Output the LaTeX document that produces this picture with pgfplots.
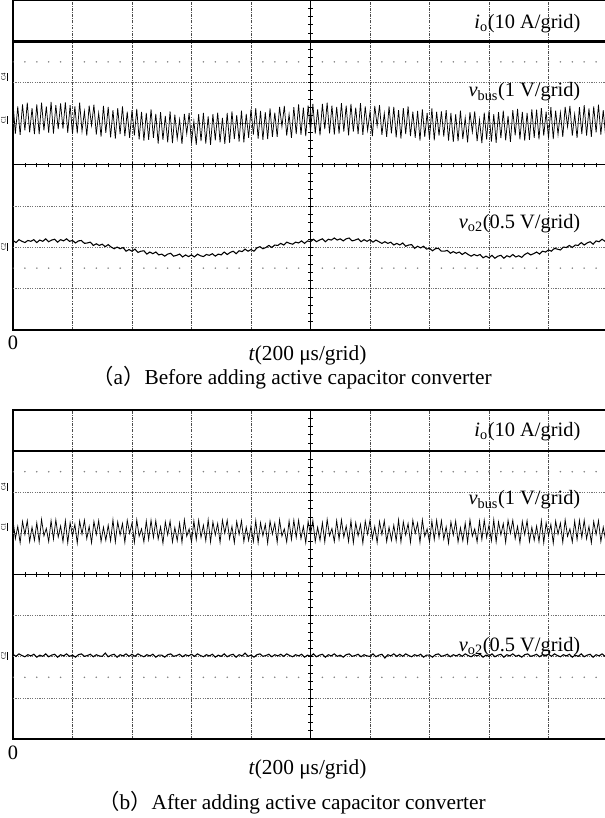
\documentclass[border=0pt]{standalone}
\usepackage{fontspec}
\usepackage{pgfplots}
\pgfplotsset{compat=1.18}
\setmainfont{Liberation Serif}
\newfontfamily\cjk{Noto Sans CJK SC}
\newcommand\lab{\fontsize{15.3}{18}\selectfont}
\newcommand\tlab{\fontsize{16}{19}\selectfont}
\newcommand\capf{\fontsize{16}{19}\selectfont}
\newcommand\chf{\fontsize{5}{5}\selectfont}

% 1 px of the reference = 0.75pt; one division = 59.5 px wide, 41.25 px high
\pgfplotsset{
  scopebox/.style={scale only axis, width=446.25pt,
    xmin=0, xmax=10, ymin=-4, ymax=4,
    xtick={1,...,9}, ytick=\empty, xticklabels={},
    xmajorgrids, major tick length=0pt,
    major grid style={black!70, line width=0.55pt, dash pattern=on 2.2pt off 0.9pt on 0.6pt off 0.9pt},
    axis line style={black, line width=0.9pt}},
  scopecross/.style={scale only axis, width=446.25pt,
    xmin=-5, xmax=5, ymin=-4, ymax=4, axis lines=middle,
    axis line style={-, black, line width=0.75pt},
    xtick={-5,...,5}, ytick={-4,...,4}, minor x tick num=4, minor y tick num=4,
    xticklabels={}, yticklabels={}, tick align=center,
    major tick length=4pt, minor tick length=3.5pt,
    tick style={black, line width=0.55pt}},
}
\tikzset{
  ygridl/.style={black!55, line width=0.55pt, dash pattern=on 0.9pt off 0.9pt},
  dotrow/.style={black!50, line width=1.3pt, line cap=round, dash pattern=on 0pt off 8.925pt},
}

\begin{document}
\begin{tikzpicture}
\useasboundingbox (0,0) rectangle (453.75pt,613.5pt);

% ---------------- (a) before ----------------
\begin{axis}[scopebox, height=247.5pt, at={(9.75pt,366pt)}, anchor=south west]
  \draw[ygridl] (axis cs:0,3) -- (axis cs:10,3);
  \draw[ygridl] (axis cs:0,2) -- (axis cs:10,2);
  \draw[ygridl] (axis cs:0,1) -- (axis cs:10,1);
  \draw[ygridl] (axis cs:0,-1) -- (axis cs:10,-1);
  \draw[ygridl] (axis cs:0,-2) -- (axis cs:10,-2);
  \draw[ygridl] (axis cs:0,-3) -- (axis cs:10,-3);
  \draw[dotrow] (axis cs:0,2.5) -- (axis cs:10,2.5);
  \draw[dotrow] (axis cs:0,-2.5) -- (axis cs:10,-2.5);
  % i_o
  \addplot[black, line width=2.6pt] coordinates {(0,2.99) (2.5,2.99) (5,2.99) (7.5,2.99) (10,2.99)};
  % v_bus
  \addplot[black, line width=0.55pt] coordinates {
    (0,1.50) (0.04,0.76) (0.08,1.42) (0.12,0.73) (0.16,1.47) (0.2,0.84) (0.24,1.51) (0.28,0.79) (0.32,1.38) (0.36,0.75)
    (0.4,1.47) (0.44,0.75) (0.48,1.51) (0.52,0.84) (0.56,1.42) (0.6,0.78) (0.64,1.53) (0.68,0.76) (0.72,1.45) (0.76,0.87)
    (0.8,1.49) (0.84,0.88) (0.88,1.52) (0.92,0.78) (0.96,1.45) (1,0.75) (1.04,1.42) (1.08,0.77) (1.12,1.51) (1.16,0.82)
    (1.2,1.30) (1.24,0.71) (1.28,1.44) (1.32,0.96) (1.36,1.46) (1.4,0.74) (1.44,1.26) (1.48,0.69) (1.52,1.43) (1.56,0.78)
    (1.6,1.41) (1.64,0.67) (1.68,1.33) (1.72,0.64) (1.76,1.38) (1.8,0.75) (1.84,1.42) (1.88,0.70) (1.92,1.29) (1.96,0.66)
    (2,1.33) (2.04,0.72) (2.08,1.36) (2.12,0.62) (2.16,1.29) (2.2,0.59) (2.24,1.26) (2.28,0.61) (2.32,1.35) (2.36,0.66)
    (2.4,1.24) (2.44,0.52) (2.48,1.28) (2.52,0.61) (2.56,1.19) (2.6,0.55) (2.64,1.30) (2.68,0.53) (2.72,1.22) (2.76,0.64)
    (2.8,1.10) (2.84,0.51) (2.88,1.24) (2.92,0.76) (2.96,1.26) (3,0.54) (3.04,1.06) (3.08,0.49) (3.12,1.23) (3.16,0.58)
    (3.2,1.26) (3.24,0.52) (3.28,1.18) (3.32,0.49) (3.36,1.23) (3.4,0.60) (3.44,1.27) (3.48,0.55) (3.52,1.14) (3.56,0.51)
    (3.6,1.26) (3.64,0.54) (3.68,1.30) (3.72,0.63) (3.76,1.21) (3.8,0.57) (3.84,1.32) (3.88,0.55) (3.92,1.24) (3.96,0.66)
    (4,1.35) (4.04,0.74) (4.08,1.38) (4.12,0.64) (4.16,1.31) (4.2,0.61) (4.24,1.28) (4.28,0.63) (4.32,1.37) (4.36,0.68)
    (4.4,1.27) (4.44,0.68) (4.48,1.41) (4.52,0.93) (4.56,1.43) (4.6,0.71) (4.64,1.23) (4.68,0.66) (4.72,1.40) (4.76,0.75)
    (4.8,1.47) (4.84,0.73) (4.88,1.39) (4.92,0.70) (4.96,1.44) (5,0.81) (5.04,1.48) (5.08,0.76) (5.12,1.35) (5.16,0.72)
    (5.2,1.48) (5.24,0.87) (5.28,1.51) (5.32,0.77) (5.36,1.44) (5.4,0.74) (5.44,1.41) (5.48,0.76) (5.52,1.50) (5.56,0.81)
    (5.6,1.44) (5.64,0.72) (5.68,1.48) (5.72,0.81) (5.76,1.39) (5.8,0.75) (5.84,1.50) (5.88,0.73) (5.92,1.42) (5.96,0.84)
    (6,1.29) (6.04,0.70) (6.08,1.43) (6.12,0.95) (6.16,1.45) (6.2,0.73) (6.24,1.25) (6.28,0.68) (6.32,1.42) (6.36,0.77)
    (6.4,1.41) (6.44,0.67) (6.48,1.33) (6.52,0.64) (6.56,1.38) (6.6,0.75) (6.64,1.42) (6.68,0.70) (6.72,1.29) (6.76,0.66)
    (6.8,1.31) (6.84,0.59) (6.88,1.35) (6.92,0.68) (6.96,1.26) (7,0.62) (7.04,1.37) (7.08,0.60) (7.12,1.29) (7.16,0.71)
    (7.2,1.30) (7.24,0.69) (7.28,1.33) (7.32,0.59) (7.36,1.26) (7.4,0.56) (7.44,1.23) (7.48,0.58) (7.52,1.32) (7.56,0.63)
    (7.6,1.14) (7.64,0.55) (7.68,1.28) (7.72,0.80) (7.76,1.30) (7.8,0.58) (7.84,1.10) (7.88,0.53) (7.92,1.27) (7.96,0.62)
    (8,1.31) (8.04,0.57) (8.08,1.23) (8.12,0.54) (8.16,1.28) (8.2,0.65) (8.24,1.32) (8.28,0.60) (8.32,1.19) (8.36,0.56)
    (8.4,1.33) (8.44,0.72) (8.48,1.36) (8.52,0.62) (8.56,1.29) (8.6,0.59) (8.64,1.26) (8.68,0.61) (8.72,1.35) (8.76,0.66)
    (8.8,1.34) (8.84,0.62) (8.88,1.38) (8.92,0.71) (8.96,1.29) (9,0.65) (9.04,1.40) (9.08,0.63) (9.12,1.32) (9.16,0.74)
    (9.2,1.27) (9.24,0.68) (9.28,1.41) (9.32,0.93) (9.36,1.43) (9.4,0.71) (9.44,1.23) (9.48,0.66) (9.52,1.40) (9.56,0.75)
    (9.6,1.45) (9.64,0.71) (9.68,1.37) (9.72,0.68) (9.76,1.42) (9.8,0.79) (9.84,1.46) (9.88,0.74) (9.92,1.33) (9.96,0.70) (10,1.37)
  };
  % v_o2
  \addplot[black, line width=0.8pt] coordinates {
    (0,-1.83) (0.05,-1.88) (0.1,-1.81) (0.15,-1.85) (0.2,-1.88) (0.25,-1.83) (0.3,-1.85) (0.35,-1.81) (0.4,-1.88) (0.45,-1.82)
    (0.5,-1.85) (0.55,-1.79) (0.6,-1.86) (0.65,-1.82) (0.7,-1.80) (0.75,-1.87) (0.8,-1.81) (0.85,-1.84) (0.9,-1.79) (0.95,-1.85)
    (1,-1.83) (1.05,-1.89) (1.1,-1.84) (1.15,-1.83) (1.2,-1.90) (1.25,-1.89) (1.3,-1.87) (1.35,-1.95) (1.4,-1.91) (1.45,-1.95)
    (1.5,-1.92) (1.55,-1.98) (1.6,-1.93) (1.65,-1.99) (1.7,-2.03) (1.75,-1.99) (1.8,-2.03) (1.85,-2.00) (1.9,-2.09) (1.95,-2.05)
    (2,-2.09) (2.05,-2.04) (2.1,-2.12) (2.15,-2.09) (2.2,-2.08) (2.25,-2.16) (2.3,-2.11) (2.35,-2.15) (2.4,-2.11) (2.45,-2.18)
    (2.5,-2.16) (2.55,-2.21) (2.6,-2.16) (2.65,-2.14) (2.7,-2.21) (2.75,-2.19) (2.8,-2.16) (2.85,-2.23) (2.9,-2.18) (2.95,-2.22)
    (3,-2.18) (3.05,-2.23) (3.1,-2.16) (3.15,-2.20) (3.2,-2.22) (3.25,-2.17) (3.3,-2.19) (3.35,-2.15) (3.4,-2.21) (3.45,-2.16)
    (3.5,-2.18) (3.55,-2.11) (3.6,-2.17) (3.65,-2.12) (3.7,-2.09) (3.75,-2.15) (3.8,-2.08) (3.85,-2.10) (3.9,-2.04) (3.95,-2.09)
    (4,-2.05) (4.05,-2.09) (4.1,-2.01) (4.15,-1.98) (4.2,-2.03) (4.25,-2.00) (4.3,-1.95) (4.35,-2.00) (4.4,-1.94) (4.45,-1.95)
    (4.5,-1.90) (4.55,-1.94) (4.6,-1.87) (4.65,-1.90) (4.7,-1.92) (4.75,-1.87) (4.8,-1.89) (4.85,-1.84) (4.9,-1.90) (4.95,-1.84)
    (5,-1.86) (5.05,-1.80) (5.1,-1.86) (5.15,-1.82) (5.2,-1.79) (5.25,-1.86) (5.3,-1.80) (5.35,-1.82) (5.4,-1.77) (5.45,-1.82)
    (5.5,-1.79) (5.55,-1.84) (5.6,-1.79) (5.65,-1.77) (5.7,-1.84) (5.75,-1.82) (5.8,-1.79) (5.85,-1.86) (5.9,-1.81) (5.95,-1.85)
    (6,-1.81) (6.05,-1.87) (6.1,-1.82) (6.15,-1.86) (6.2,-1.90) (6.25,-1.86) (6.3,-1.90) (6.35,-1.87) (6.4,-1.94) (6.45,-1.90)
    (6.5,-1.94) (6.55,-1.89) (6.6,-1.97) (6.65,-1.94) (6.7,-1.93) (6.75,-2.02) (6.8,-1.97) (6.85,-2.01) (6.9,-1.97) (6.95,-2.04)
    (7,-2.02) (7.05,-2.08) (7.1,-2.03) (7.15,-2.02) (7.2,-2.09) (7.25,-2.09) (7.3,-2.07) (7.35,-2.14) (7.4,-2.10) (7.45,-2.14)
    (7.5,-2.11) (7.55,-2.17) (7.6,-2.12) (7.65,-2.17) (7.7,-2.21) (7.75,-2.17) (7.8,-2.20) (7.85,-2.17) (7.9,-2.25) (7.95,-2.21)
    (8,-2.25) (8.05,-2.19) (8.1,-2.26) (8.15,-2.21) (8.2,-2.19) (8.25,-2.26) (8.3,-2.20) (8.35,-2.23) (8.4,-2.17) (8.45,-2.23)
    (8.5,-2.20) (8.55,-2.24) (8.6,-2.17) (8.65,-2.13) (8.7,-2.18) (8.75,-2.15) (8.8,-2.11) (8.85,-2.16) (8.9,-2.09) (8.95,-2.11)
    (9,-2.06) (9.05,-2.09) (9.1,-2.02) (9.15,-2.04) (9.2,-2.06) (9.25,-1.99) (9.3,-2.00) (9.35,-1.95) (9.4,-2.00) (9.45,-1.94)
    (9.5,-1.95) (9.55,-1.88) (9.6,-1.94) (9.65,-1.89) (9.7,-1.86) (9.75,-1.92) (9.8,-1.84) (9.85,-1.86) (9.9,-1.80) (9.95,-1.85) (10,-1.82)
  };
\end{axis}
\begin{axis}[scopecross, height=247.5pt, at={(9.75pt,366pt)}, anchor=south west]
\end{axis}

\node[anchor=base east, font=\lab] at (438.75pt,591.75pt) {\textit{i}\textsubscript{o}(10 A/grid)};
\node[anchor=base east, font=\lab] at (438.75pt,540.75pt) {\textit{v}\textsubscript{bus}(1 V/grid)};
\node[anchor=base east, font=\lab] at (438.75pt,441.75pt) {\textit{v}\textsubscript{o2}(0.5 V/grid)};
\node[anchor=base, font=\lab] at (9.75pt,351pt) {0};
\node[anchor=base, font=\tlab] at (230.6pt,342.75pt) {\textit{t}(200 μs/grid)};
\node[anchor=base, font=\capf] at (219pt,324.75pt) {{\cjk （}a{\cjk ）}Before adding active capacitor converter};
\node[rotate=90, font=\chf, inner sep=0.5pt] at (3.5pt,555.75pt) {\underline{C4}};
\node[rotate=90, font=\chf, inner sep=0.5pt] at (3.5pt,523.5pt) {\underline{C1}};
\node[rotate=90, font=\chf, inner sep=0.5pt] at (3.5pt,428.25pt) {\underline{C2}};

% ---------------- (b) after ----------------
\begin{axis}[scopebox, height=246.75pt, at={(9.75pt,59.25pt)}, anchor=south west]
  \draw[ygridl] (axis cs:0,3) -- (axis cs:10,3);
  \draw[ygridl] (axis cs:0,2) -- (axis cs:10,2);
  \draw[ygridl] (axis cs:0,1) -- (axis cs:10,1);
  \draw[ygridl] (axis cs:0,-1) -- (axis cs:10,-1);
  \draw[ygridl] (axis cs:0,-2) -- (axis cs:10,-2);
  \draw[ygridl] (axis cs:0,-3) -- (axis cs:10,-3);
  \draw[dotrow] (axis cs:0,2.5) -- (axis cs:10,2.5);
  \draw[dotrow] (axis cs:0,-2.5) -- (axis cs:10,-2.5);
  % i_o
  \addplot[black, line width=1.9pt] coordinates {(0,3.0) (2.5,3.0) (5,3.0) (7.5,3.0) (10,3.0)};
  % v_bus
  \addplot[black, line width=0.55pt] coordinates {
    (0,1.32) (0.04,0.87) (0.08,1.17) (0.12,0.77) (0.16,1.29) (0.2,0.97) (0.24,1.31) (0.28,0.80) (0.32,1.15) (0.36,0.83)
    (0.4,1.26) (0.44,0.79) (0.48,1.34) (0.52,0.94) (0.56,1.12) (0.6,0.80) (0.64,1.31) (0.68,0.86) (0.72,1.33) (0.76,0.91)
    (0.8,1.18) (0.84,0.80) (0.88,1.31) (0.92,0.77) (0.96,1.26) (1,0.94) (1.04,1.22) (1.08,0.76) (1.12,1.30) (1.16,0.98)
    (1.2,1.32) (1.24,0.87) (1.28,1.17) (1.32,0.77) (1.36,1.29) (1.4,0.97) (1.44,1.31) (1.48,0.80) (1.52,1.15) (1.56,0.83)
    (1.6,1.20) (1.64,0.82) (1.68,1.33) (1.72,0.79) (1.76,1.28) (1.8,0.96) (1.84,1.24) (1.88,0.78) (1.92,1.32) (1.96,1.00)
    (2,1.25) (2.04,0.78) (2.08,1.33) (2.12,0.93) (2.16,1.11) (2.2,0.79) (2.24,1.30) (2.28,0.85) (2.32,1.32) (2.36,0.90)
    (2.4,1.31) (2.44,0.86) (2.48,1.16) (2.52,0.76) (2.56,1.28) (2.6,0.96) (2.64,1.30) (2.68,0.79) (2.72,1.14) (2.76,0.82)
    (2.8,1.25) (2.84,0.78) (2.88,1.33) (2.92,0.93) (2.96,1.11) (3,0.79) (3.04,1.30) (3.08,0.85) (3.12,1.32) (3.16,0.90)
    (3.2,1.20) (3.24,0.82) (3.28,1.33) (3.32,0.79) (3.36,1.28) (3.4,0.96) (3.44,1.24) (3.48,0.78) (3.52,1.32) (3.56,1.00)
    (3.6,1.32) (3.64,0.87) (3.68,1.17) (3.72,0.77) (3.76,1.29) (3.8,0.97) (3.84,1.31) (3.88,0.80) (3.92,1.15) (3.96,0.83)
    (4,1.18) (4.04,0.80) (4.08,1.31) (4.12,0.77) (4.16,1.26) (4.2,0.94) (4.24,1.22) (4.28,0.76) (4.32,1.30) (4.36,0.98)
    (4.4,1.25) (4.44,0.78) (4.48,1.33) (4.52,0.93) (4.56,1.11) (4.6,0.79) (4.64,1.30) (4.68,0.85) (4.72,1.32) (4.76,0.90)
    (4.8,1.32) (4.84,0.87) (4.88,1.17) (4.92,0.77) (4.96,1.29) (5,0.97) (5.04,1.31) (5.08,0.80) (5.12,1.15) (5.16,0.83)
    (5.2,1.26) (5.24,0.79) (5.28,1.34) (5.32,0.94) (5.36,1.12) (5.4,0.80) (5.44,1.31) (5.48,0.86) (5.52,1.33) (5.56,0.91)
    (5.6,1.18) (5.64,0.80) (5.68,1.31) (5.72,0.77) (5.76,1.26) (5.8,0.94) (5.84,1.22) (5.88,0.76) (5.92,1.30) (5.96,0.98)
    (6,1.32) (6.04,0.87) (6.08,1.17) (6.12,0.77) (6.16,1.29) (6.2,0.97) (6.24,1.31) (6.28,0.80) (6.32,1.15) (6.36,0.83)
    (6.4,1.20) (6.44,0.82) (6.48,1.33) (6.52,0.79) (6.56,1.28) (6.6,0.96) (6.64,1.24) (6.68,0.78) (6.72,1.32) (6.76,1.00)
    (6.8,1.25) (6.84,0.78) (6.88,1.33) (6.92,0.93) (6.96,1.11) (7,0.79) (7.04,1.30) (7.08,0.85) (7.12,1.32) (7.16,0.90)
    (7.2,1.31) (7.24,0.86) (7.28,1.16) (7.32,0.76) (7.36,1.28) (7.4,0.96) (7.44,1.30) (7.48,0.79) (7.52,1.14) (7.56,0.82)
    (7.6,1.25) (7.64,0.78) (7.68,1.33) (7.72,0.93) (7.76,1.11) (7.8,0.79) (7.84,1.30) (7.88,0.85) (7.92,1.32) (7.96,0.90)
    (8,1.20) (8.04,0.82) (8.08,1.33) (8.12,0.79) (8.16,1.28) (8.2,0.96) (8.24,1.24) (8.28,0.78) (8.32,1.32) (8.36,1.00)
    (8.4,1.32) (8.44,0.87) (8.48,1.17) (8.52,0.77) (8.56,1.29) (8.6,0.97) (8.64,1.31) (8.68,0.80) (8.72,1.15) (8.76,0.83)
    (8.8,1.18) (8.84,0.80) (8.88,1.31) (8.92,0.77) (8.96,1.26) (9,0.94) (9.04,1.22) (9.08,0.76) (9.12,1.30) (9.16,0.98)
    (9.2,1.25) (9.24,0.78) (9.28,1.33) (9.32,0.93) (9.36,1.11) (9.4,0.79) (9.44,1.30) (9.48,0.85) (9.52,1.32) (9.56,0.90)
    (9.6,1.32) (9.64,0.87) (9.68,1.17) (9.72,0.77) (9.76,1.29) (9.8,0.97) (9.84,1.31) (9.88,0.80) (9.92,1.15) (9.96,0.83) (10,1.30)
  };
  % v_o2
  \addplot[black, line width=0.8pt] coordinates {
    (0,-1.94) (0.05,-1.99) (0.1,-1.93) (0.15,-1.97) (0.2,-2.00) (0.25,-1.95) (0.3,-1.98) (0.35,-1.94) (0.4,-2.01) (0.45,-1.96)
    (0.5,-1.99) (0.55,-1.93) (0.6,-2.00) (0.65,-1.96) (0.7,-1.94) (0.75,-2.01) (0.8,-1.95) (0.85,-1.98) (0.9,-1.93) (0.95,-1.99)
    (1,-1.96) (1.05,-2.01) (1.1,-1.95) (1.15,-1.93) (1.2,-1.99) (1.25,-1.97) (1.3,-1.94) (1.35,-2.00) (1.4,-1.95) (1.45,-1.98)
    (1.5,-1.99) (1.55,-1.91) (1.6,-2.00) (1.65,-1.96) (1.7,-1.94) (1.75,-2.01) (1.8,-1.95) (1.85,-1.98) (1.9,-1.93) (1.95,-1.99)
    (2,-1.94) (2.05,-1.99) (2.1,-1.93) (2.15,-1.97) (2.2,-2.00) (2.25,-1.95) (2.3,-1.98) (2.35,-1.94) (2.4,-2.01) (2.45,-1.96)
    (2.5,-1.96) (2.55,-2.01) (2.6,-1.95) (2.65,-1.93) (2.7,-1.99) (2.75,-1.97) (2.8,-1.94) (2.85,-2.00) (2.9,-1.95) (2.95,-1.98)
    (3,-1.94) (3.05,-1.99) (3.1,-1.93) (3.15,-1.97) (3.2,-2.00) (3.25,-1.95) (3.3,-1.98) (3.35,-1.94) (3.4,-2.01) (3.45,-1.96)
    (3.5,-1.99) (3.55,-1.93) (3.6,-2.00) (3.65,-1.96) (3.7,-1.94) (3.75,-2.01) (3.8,-1.95) (3.85,-1.98) (3.9,-1.91) (3.95,-1.99)
    (4,-1.96) (4.05,-2.01) (4.1,-1.95) (4.15,-1.93) (4.2,-1.99) (4.25,-1.97) (4.3,-1.94) (4.35,-2.00) (4.4,-1.95) (4.45,-1.98)
    (4.5,-1.94) (4.55,-1.99) (4.6,-1.93) (4.65,-1.97) (4.7,-2.00) (4.75,-1.95) (4.8,-1.98) (4.85,-1.94) (4.9,-2.01) (4.95,-1.96)
    (5,-1.99) (5.05,-1.93) (5.1,-2.00) (5.15,-1.96) (5.2,-1.94) (5.25,-2.01) (5.3,-1.95) (5.35,-1.98) (5.4,-1.93) (5.45,-1.99)
    (5.5,-1.96) (5.55,-2.01) (5.6,-1.95) (5.65,-1.93) (5.7,-1.99) (5.75,-1.97) (5.8,-1.94) (5.85,-2.00) (5.9,-1.95) (5.95,-1.98)
    (6,-1.99) (6.05,-1.93) (6.1,-2.00) (6.15,-1.96) (6.2,-1.94) (6.25,-2.03) (6.3,-1.95) (6.35,-1.98) (6.4,-1.93) (6.45,-1.99)
    (6.5,-1.94) (6.55,-1.99) (6.6,-1.93) (6.65,-1.97) (6.7,-2.00) (6.75,-1.95) (6.8,-1.98) (6.85,-1.94) (6.9,-2.01) (6.95,-1.96)
    (7,-1.96) (7.05,-2.01) (7.1,-1.95) (7.15,-1.93) (7.2,-1.99) (7.25,-1.97) (7.3,-1.94) (7.35,-2.00) (7.4,-1.95) (7.45,-1.98)
    (7.5,-1.94) (7.55,-1.99) (7.6,-1.93) (7.65,-1.97) (7.7,-2.00) (7.75,-1.95) (7.8,-1.98) (7.85,-1.94) (7.9,-2.01) (7.95,-1.96)
    (8,-1.99) (8.05,-1.93) (8.1,-2.00) (8.15,-1.96) (8.2,-1.94) (8.25,-2.01) (8.3,-1.95) (8.35,-1.98) (8.4,-1.93) (8.45,-1.99)
    (8.5,-1.96) (8.55,-2.01) (8.6,-1.95) (8.65,-1.93) (8.7,-1.99) (8.75,-1.97) (8.8,-1.94) (8.85,-2.00) (8.9,-1.95) (8.95,-1.98)
    (9,-1.94) (9.05,-1.99) (9.1,-1.93) (9.15,-1.97) (9.2,-2.00) (9.25,-1.95) (9.3,-1.98) (9.35,-1.94) (9.4,-2.01) (9.45,-1.96)
    (9.5,-1.99) (9.55,-1.93) (9.6,-2.00) (9.65,-1.96) (9.7,-1.94) (9.75,-2.01) (9.8,-1.95) (9.85,-1.98) (9.9,-1.93) (9.95,-1.99) (10,-1.96)
  };
\end{axis}
\begin{axis}[scopecross, height=246.75pt, at={(9.75pt,59.25pt)}, anchor=south west]
\end{axis}

\node[anchor=base east, font=\lab] at (438.75pt,285.75pt) {\textit{i}\textsubscript{o}(10 A/grid)};
\node[anchor=base east, font=\lab] at (438.75pt,234.75pt) {\textit{v}\textsubscript{bus}(1 V/grid)};
\node[anchor=base east, font=\lab] at (438.75pt,124.5pt) {\textit{v}\textsubscript{o2}(0.5 V/grid)};
\node[anchor=base, font=\lab] at (9.75pt,44pt) {0};
\node[anchor=base, font=\tlab] at (230.6pt,32.75pt) {\textit{t}(200 μs/grid)};
\node[anchor=base, font=\capf] at (219pt,6pt) {{\cjk （}b{\cjk ）}After adding active capacitor converter};
\node[rotate=90, font=\chf, inner sep=0.5pt] at (3.5pt,248.25pt) {\underline{C4}};
\node[rotate=90, font=\chf, inner sep=0.5pt] at (3.5pt,218.25pt) {\underline{C1}};
\node[rotate=90, font=\chf, inner sep=0.5pt] at (3.5pt,121.5pt) {\underline{C2}};
\end{tikzpicture}
\end{document}
